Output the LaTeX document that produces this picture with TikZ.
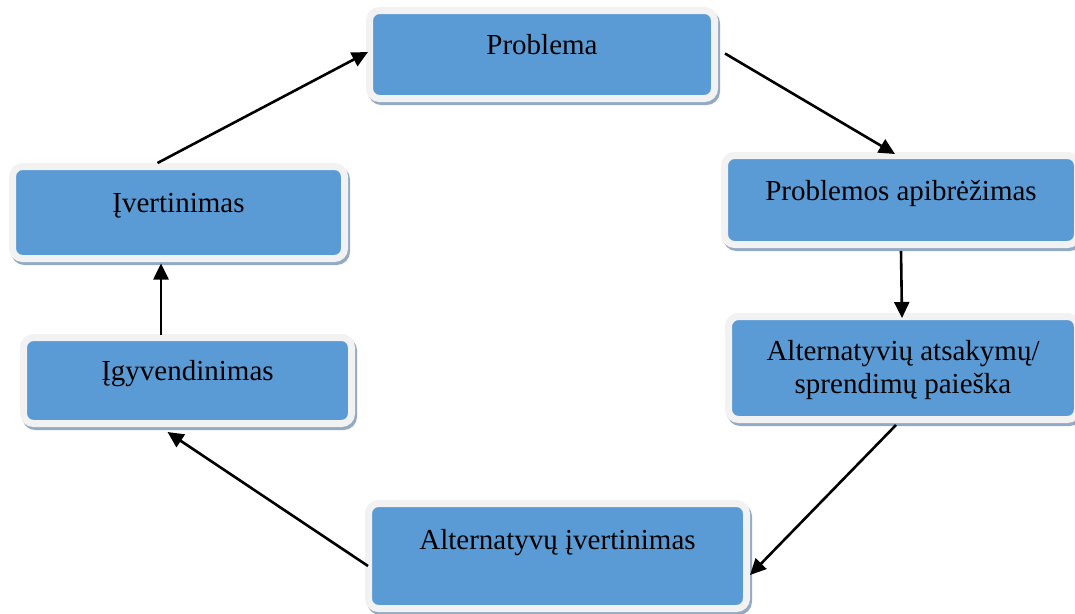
\documentclass[tikz,border=0pt]{standalone}
\usepackage{fontspec}
\setmainfont{Liberation Serif}
\usepackage{tikz}
\usetikzlibrary{calc,arrows.meta,shadows}
\definecolor{boxblue}{RGB}{91,155,213}
\definecolor{framegrey}{RGB}{242,242,242}
\definecolor{shadowblue}{RGB}{146,170,196}
\tikzset{
	stagebox/.style={rectangle, rounded corners=10pt, fill=boxblue, draw=framegrey, line width=7pt,
		drop shadow={shadow xshift=2pt, shadow yshift=-3pt, fill=shadowblue, draw=shadowblue, line width=7pt, opacity=1},
		font=\fontsize{29}{33}\selectfont, text height=20pt, text depth=20pt, align=center, inner sep=0pt},
	flow/.style={line width=2.6pt, -{Triangle[length=16pt,width=15pt]}}
}

\begin{document}
\begin{tikzpicture}[x=1pt,y=-1pt]
			%%%%% START %%%%%
			\useasboundingbox (0,0) rectangle (1075,613);
			
			\node[stagebox, minimum width=345pt, minimum height=88pt] (prob) at (542,54.5) {Problema};
			\node[stagebox, minimum width=353pt, minimum height=89pt] (apibr) at (901,200) {Problemos apibrėžimas};
			\node[stagebox, minimum width=349pt, minimum height=103pt, text height=60pt, text depth=10pt] (paieska) at (903,368) {Alternatyvių atsakymų/\\sprendimų paieška};
			\node[stagebox, minimum width=378pt, minimum height=105pt, text depth=34pt] (altivert) at (557.5,556) {Alternatyvų įvertinimas};
			\node[stagebox, minimum width=328pt, minimum height=86pt] (igyv) at (187.5,380.5) {Įgyvendinimas};
			\node[stagebox, minimum width=332pt, minimum height=92pt] (ivert) at (178.5,212.5) {Įvertinimas};
			
			\draw[flow] ($(ivert.north)+(-21,0)$) -- ($(prob.west)+(2,-2.5)$);
			\draw[flow] ($(prob.east)+(7,-1)$) -- ($(apibr.north)+(-6,2)$);
			\draw[flow] ($(apibr.south)+(0,3)$) -- ($(paieska.north)+(-1,5)$);
			\draw[flow] ($(paieska.south)+(-7,2)$) -- ($(altivert.east)+(0,19)$);
			\draw[flow] ($(altivert.west)+(3,10)$) -- ($(igyv.south)+(-20,5)$);
			\draw[flow] ($(igyv.north)+(-26.5,1)$) -- ($(ivert.south)+(-17.5,1.5)$);
			
			%%%%% END %%%%%
\end{tikzpicture}
\end{document}
